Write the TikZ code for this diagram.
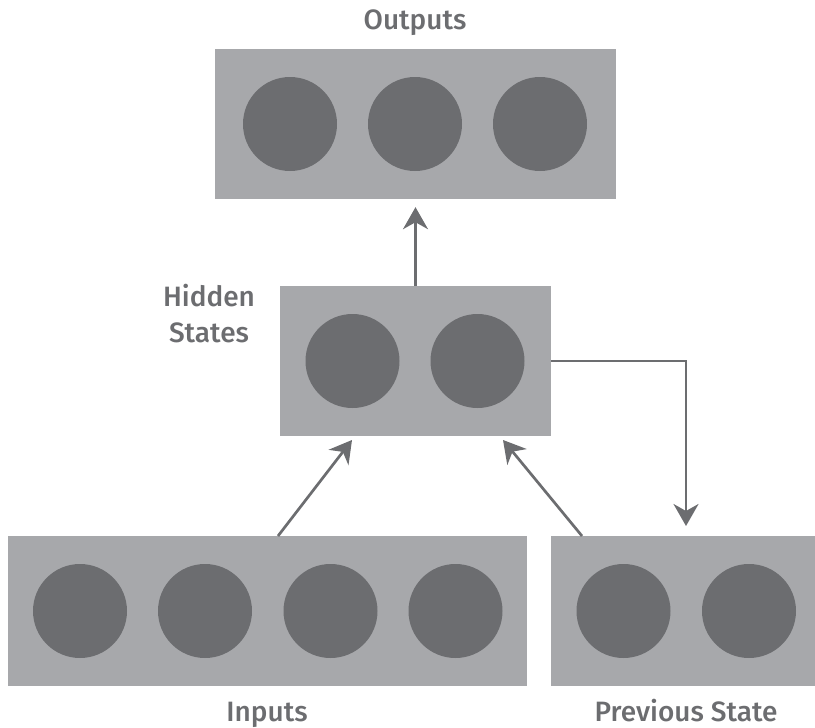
\documentclass[tikz,border=0pt]{standalone}
\usepackage{fontspec}
\setmainfont{Fira Sans}[UprightFont=* Medium]
\usetikzlibrary{arrows.meta}

\definecolor{boxgray}{HTML}{A7A8AB}
\definecolor{dotgray}{HTML}{6C6D70}

\tikzset{
    layer/.style={rectangle, fill=boxgray, inner sep=0pt, minimum height=150pt},
    unit/.style={circle, fill=dotgray, inner sep=0pt, minimum size=94pt},
    flow/.style={draw=dotgray, line width=2.7pt,
        -{Stealth[length=22pt, width=25pt, inset=7pt]}},
    tag/.style={text=dotgray, font=\fontsize{28}{36}\selectfont, align=center}
}

\begin{document}
\begin{tikzpicture}[x=1pt, y=-1pt]

    % --- Page frame (pixel grid of the reference) ---
    \useasboundingbox (0,0) rectangle (815,728);

    % --- Layers ---
    \node[layer, minimum width=401pt] (outputs) at (415.5,124) {};
    \node[layer, minimum width=271pt] (hidden) at (415.5,361) {};
    \node[layer, minimum width=519pt] (inputs) at (267.5,611) {};
    \node[layer, minimum width=264pt] (prev) at (683,611) {};

    % --- Units in each layer ---
    \foreach \i/\x in {1/290, 2/415, 3/540}
        \node[unit] (out\i) at (\x,124) {};
    \foreach \i/\x in {1/352.5, 2/477.5}
        \node[unit] (hid\i) at (\x,361) {};
    \foreach \i/\x in {1/80, 2/205, 3/330.5, 4/455.5}
        \node[unit] (in\i) at (\x,611) {};
    \foreach \i/\x in {1/623.5, 2/749}
        \node[unit] (pre\i) at (\x,611) {};

    % --- Free ends of the connectors ---
    \coordinate (inTail) at (278,536);
    \coordinate (inTip) at (352,440);
    \coordinate (prevTail) at (582,536);
    \coordinate (prevTip) at (503,440);
    \coordinate (loopTip) at (686,526);

    % --- Connectors ---
    \draw[flow] (hidden.north) -- ([yshift=-8pt]outputs.south);
    \draw[flow] (inTail) -- (inTip);
    \draw[flow] (prevTail) -- (prevTip);
    \draw[flow] (hidden.east) -| (loopTip);

    % --- Labels ---
    \node[tag, anchor=base] (outLabel) at (415,30) {Outputs};
    \node[tag, anchor=base] (hidLabel) at (209,342.5) {Hidden\\States};
    \node[tag, anchor=base] (inLabel) at (267,721) {Inputs};
    \node[tag, anchor=base] (prevLabel) at (686,721) {Previous State};

\end{tikzpicture}
\end{document}
